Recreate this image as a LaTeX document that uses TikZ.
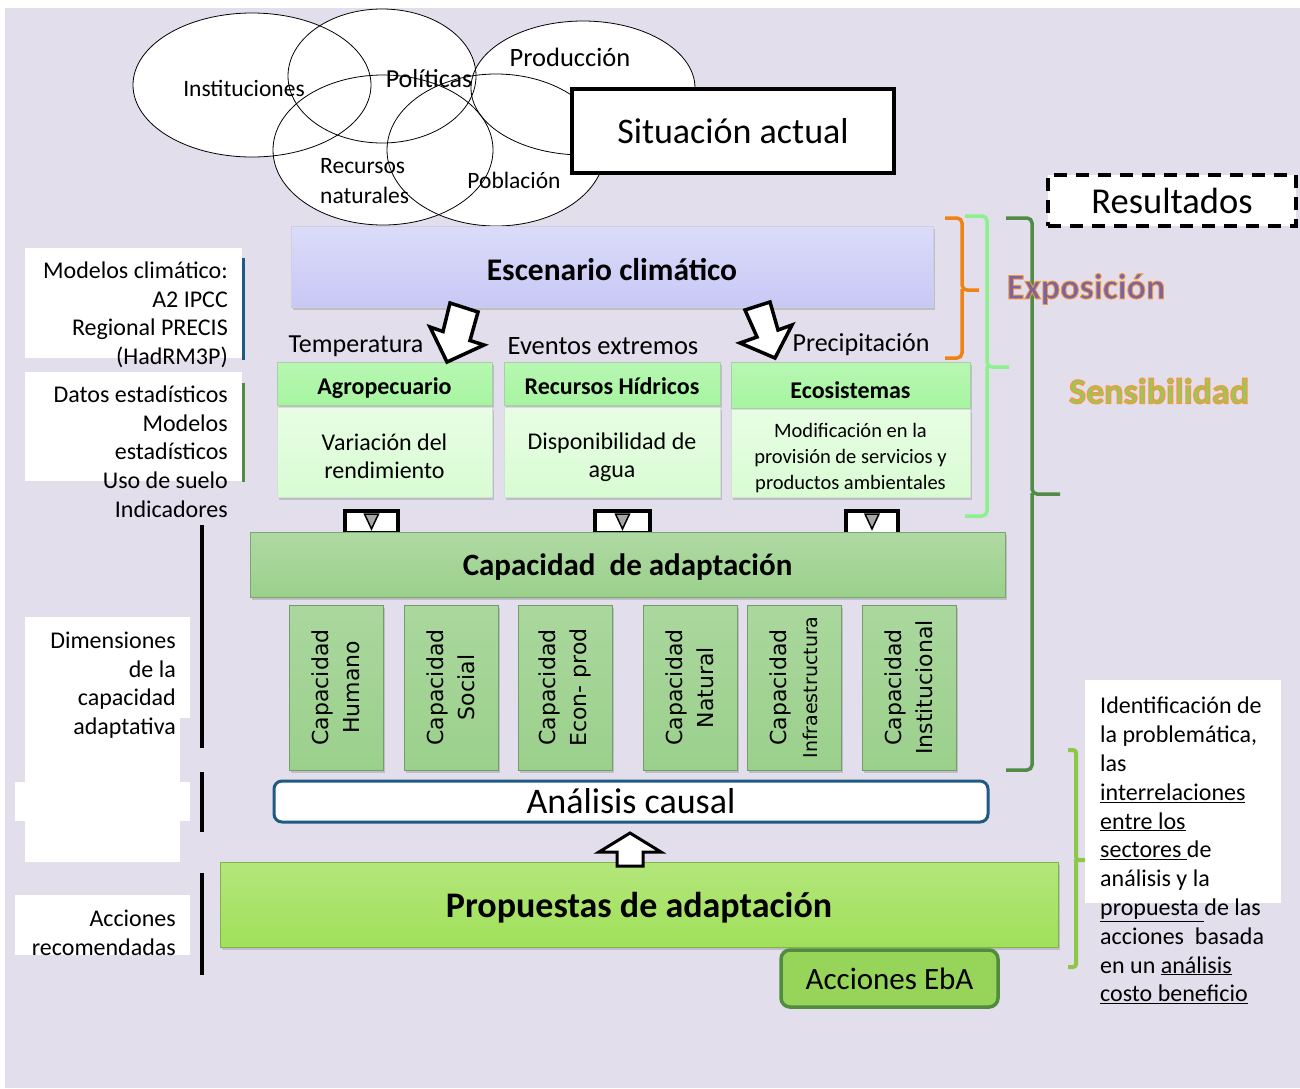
\documentclass[tikz,border=0pt]{standalone}
\usepackage{fontspec}
\setmainfont{Carlito}
\newfontfamily\dejavu{DejaVu Sans}
\usetikzlibrary{shapes.geometric,shadows}
\definecolor{bgc}{RGB}{226,222,236}
\definecolor{escfill}{RGB}{200,200,246}
\definecolor{hdrfill}{RGB}{166,245,160}
\definecolor{bodyfill}{RGB}{216,252,210}
\definecolor{capfill}{RGB}{155,208,140}
\definecolor{propfill}{RGB}{160,224,90}
\definecolor{ebafill}{RGB}{150,212,90}
\definecolor{ebaline}{RGB}{80,140,60}
\definecolor{darkblue}{RGB}{31,90,130}
\definecolor{brorange}{RGB}{240,130,20}
\definecolor{brlight}{RGB}{140,240,140}
\definecolor{brdark}{RGB}{80,140,70}
\definecolor{brlow}{RGB}{140,200,70}
\definecolor{expcol}{RGB}{125,100,160}
\definecolor{sencol}{RGB}{150,200,90}
\newcommand{\myfs}[2]{\fontsize{#1}{#2}\selectfont}
% text with a thin orange outline (single text, stroke+fill rendering mode)
\newcommand{\outlinedtext}[2]{\special{pdf:literal direct 0.95 0.6 0.25 RG #1 w 2 Tr}#2\special{pdf:literal direct 0 Tr}}
\tikzset{
  shade3d/.style={drop shadow={opacity=0.35,shadow xshift=2pt,shadow yshift=-2.5pt}},
  basebox/.style={rectangle,inner sep=0pt,shade3d},
  hdr/.style={basebox,draw=hdrfill!70!black!60,line width=0.6pt,top color=hdrfill!80!white,bottom color=hdrfill,font=\myfs{24}{28}\bfseries,text depth=0pt},
  body/.style={basebox,draw=bodyfill!70!black!40,line width=0.6pt,top color=white!40!bodyfill,bottom color=bodyfill},
  bodytext/.style={align=center,inner sep=0pt},
  capbox/.style={basebox,draw=capfill!75!black,line width=0.8pt,top color=capfill!85!white,bottom color=capfill,minimum width=94pt,minimum height=165pt},
  captext/.style={rotate=90,align=center,font=\dejavu\myfs{22}{31}},
  ell/.style={line width=0.8pt},
  blockarrow/.style={fill=white,draw=black,line width=3.5pt,line join=miter},
  labelbox/.style={fill=white},
  sidetext/.style={inner sep=0pt,font=\myfs{24}{28.8}},
  brace/.style={line width=3.5pt,rounded corners=5pt},
  tribox/.style={fill=white,draw=black,line width=3.5pt}
}
\begin{document}
\begin{tikzpicture}[x=1pt,y=-1pt]
\useasboundingbox (0,0) rectangle (1300,1088);
\fill[white] (0,0) rectangle (1300,1088);
\fill[bgc] (5,8) rectangle (1300,1088);

% ---- ellipses (fills, texts, outlines)
\fill[white] (252,85) ellipse [x radius=119,y radius=72];
\fill[white] (382,76) ellipse [x radius=94,y radius=67];
\fill[white] (583,88) ellipse [x radius=112,y radius=67];
\fill[white] (383,150) ellipse [x radius=110,y radius=75];
\fill[white] (496,150) ellipse [x radius=109,y radius=76];
\node[font=\myfs{23.5}{28}] (tinst) at (244,88) {Instituciones};
\node[font=\myfs{26}{28}] (tpol) at (429,79) {Políticas};
\node[font=\myfs{26.5}{28}] (tprod) at (570,57) {Producción};
\node[font=\myfs{23.5}{30},align=left,anchor=north west,inner sep=0pt] (trec) at (320,158) {Recursos\\naturales};
\node[font=\myfs{23.5}{28}] (tpob) at (514,180) {Población};
\draw[ell] (252,85) ellipse [x radius=119,y radius=72];
\draw[ell] (382,76) ellipse [x radius=94,y radius=67];
\draw[ell] (583,88) ellipse [x radius=112,y radius=67];
\draw[ell] (383,150) ellipse [x radius=110,y radius=75];
\draw[ell] (496,150) ellipse [x radius=109,y radius=76];

% ---- Situación actual / Resultados
\node[rectangle,fill=white,draw=black,line width=4pt,minimum width=322pt,minimum height=84pt,font=\myfs{36}{40}] (sit) at (733,131) {Situación actual};
\node[rectangle,fill=white,draw=black,line width=4pt,dash pattern=on 13pt off 9pt,minimum width=248pt,minimum height=51pt,font=\myfs{36.5}{40}] (res) at (1172,200.5) {Resultados};

% ---- left label boxes
\fill[labelbox] (25,248) rectangle (242,358);
\fill[labelbox] (25,372) rectangle (242,481);
\fill[labelbox] (25,617) rectangle (190,718);
\fill[labelbox] (25,718) rectangle (180,862);
\fill[labelbox] (15,782) rectangle (190,821);
\fill[labelbox] (15,895) rectangle (190,955);
\node[sidetext,align=right,anchor=north east] (lab1) at (228,261.5) {Modelos climático:\\A2 IPCC\\Regional PRECIS\\(HadRM3P)};
\node[sidetext,align=right,anchor=north east] (lab2) at (228,385.5) {Datos estadísticos\\Modelos\\estadísticos\\Uso de suelo\\Indicadores};
\node[sidetext,align=right,anchor=north east] (lab3) at (176,631.5) {Dimensiones\\de la\\capacidad\\adaptativa};
\node[sidetext,align=right,anchor=north east] (lab4) at (176,909.5) {Acciones\\recomendadas};
\draw[darkblue,line width=3pt] (243,258) -- (243,360);
\draw[brdark,line width=3pt] (243,383) -- (243,482);
\draw[black,line width=4pt] (202,525) -- (202,748);
\draw[black,line width=4pt] (202,772) -- (202,832);
\draw[black,line width=4pt] (202,873) -- (202,975);

% ---- Escenario climático
\node[basebox,draw=escfill!80!black!50,line width=0.6pt,top color=escfill!65!white,bottom color=escfill,minimum width=642pt,minimum height=81pt,font=\myfs{31.5}{34}\bfseries,text height=27pt,text depth=0pt] (esc) at (612,266.5) {Escenario climático};

% ---- factors
\node[font=\myfs{26}{28}] (ftemp) at (356,346) {Temperatura};
\node[font=\myfs{26.5}{28}] (fev) at (603,346) {Eventos extremos};
\node[font=\myfs{26}{28}] (fprec) at (861,345) {Precipitación};

% ---- sectors
\node[hdr,minimum width=215pt,minimum height=43pt,text height=21pt] (agroh) at (384.5,383.5) {Agropecuario};
\node[body,minimum width=215pt,minimum height=90pt] (agrob) at (384.5,452) {};
\node[bodytext,font=\myfs{24}{28}] (agrot) at ([yshift=-4.5pt]agrob.center) {Variación del\\rendimiento};
\node[hdr,minimum width=216pt,minimum height=43pt,text height=21pt] (rech) at (612,383.5) {Recursos Hídricos};
\node[body,minimum width=216pt,minimum height=90pt] (recb) at (612,452) {};
\node[bodytext,font=\myfs{24}{28}] (rect) at ([yshift=-5pt]recb.center) {Disponibilidad de\\agua};
\node[hdr,minimum width=239pt,minimum height=46pt,text height=27pt] (ecoh) at (850.5,385) {Ecosistemas};
\node[body,minimum width=239pt,minimum height=88pt] (ecob) at (850.5,453) {};
\node[bodytext,font=\myfs{20.5}{26}] (ecot) at ([yshift=-5pt]ecob.center) {Modificación en la\\provisión de servicios y\\productos ambientales};

% ---- block arrows
\draw[blockarrow] (450,303) -- (478,312) -- (470,340.5) -- (484,345) -- (447,362) -- (430,327) -- (443,331.5) -- cycle;
\draw[blockarrow] (745,310) -- (770,302) -- (778,330) -- (792,325) -- (775,358) -- (740,343) -- (757,337) -- cycle;

% ---- small boxes with triangles
\node[tribox,minimum width=53pt,minimum height=22pt,inner sep=0pt] (tb1) at (371.5,522) {};
\node[tribox,minimum width=55pt,minimum height=22pt,inner sep=0pt] (tb2) at (622.5,522) {};
\node[tribox,minimum width=52pt,minimum height=23pt,inner sep=0pt] (tb3) at (872,522.5) {};
\foreach \xx in {371.5,622.5,872}{
  \draw[fill=gray!70,draw=black,line width=1.5pt] (\xx-7,514) -- (\xx+7,514) -- (\xx,529) -- cycle;
}

% ---- Capacidad de adaptación
\node[basebox,draw=capfill!80!black,line width=0.6pt,top color=capfill!80!white,bottom color=capfill,minimum width=755pt,minimum height=65pt,font=\myfs{31}{34}\bfseries,text depth=0pt] (cap) at (627.5,564.5) {Capacidad\ \ de adaptación};

\node[capbox] (c1) at (336,687.5) {};
\node[capbox] (c2) at (451,687.5) {};
\node[capbox] (c3) at (565,687.5) {};
\node[capbox] (c4) at (690,687.5) {};
\node[capbox] (c5) at (794,687.5) {};
\node[capbox] (c6) at (909,687.5) {};
\node[captext] (t1) at (c1) {Capacidad\\Humano};
\node[captext] (t2) at (c2) {Capacidad\\Social};
\node[captext] (t3) at (c3) {Capacidad\\Econ- prod};
\node[captext] (t4) at (c4) {Capacidad\\Natural};
\node[captext] (t5) at (c5) {Capacidad\\{\myfs{19}{27}Infraestructura}};
\node[captext] (t6) at (c6) {Capacidad\\Institucional};

% ---- Análisis causal
\node[rectangle,rounded corners=8pt,fill=white,draw=darkblue,line width=3pt,minimum width=714pt,minimum height=41pt,inner sep=0pt,font=\myfs{36}{38},text depth=1pt] (ana) at (631,801.5) {Análisis causal};

% ---- Propuestas
\node[basebox,draw=propfill!80!black,line width=0.6pt,top color=propfill!80!white,bottom color=propfill,minimum width=838pt,minimum height=85pt,font=\myfs{36}{38}\bfseries,text depth=0pt] (prop) at (639,904.5) {Propuestas de adaptación};
\node[rectangle,rounded corners=9pt,fill=ebafill,draw=ebaline,line width=3.5pt,minimum width=217pt,minimum height=57pt,font=\myfs{31}{34}] (eba) at (889.5,978.5) {Acciones EbA};

% up arrow (on top of Propuestas)
\draw[blockarrow,line width=3pt] (630,833) -- (661,852) -- (643,852) -- (643,866) -- (617,866) -- (617,852) -- (599,852) -- cycle;

% ---- braces on the right
\draw[brace,brorange] (945,218) -- (962,218) -- (962,290) -- (979,290);
\draw[brace,brorange] (962,289) -- (962,358) -- (945,358);
\draw[brace,brlight] (965,216) -- (987,216) -- (987,367) -- (1009,367);
\draw[brace,brlight] (987,366) -- (987,516) -- (965,516);
\draw[brace,brdark] (1006,218) -- (1032,218) -- (1032,494) -- (1060,494);
\draw[brace,brdark] (1032,493) -- (1032,770) -- (1006,770);
\draw[brace,brlow,line width=4pt,rounded corners=3pt] (1068,750) -- (1076,750) -- (1076,860) -- (1088,860);
\draw[brace,brlow,line width=4pt,rounded corners=3pt] (1076,859) -- (1076,967) -- (1068,967);

% ---- Exposición / Sensibilidad
\node[text=expcol,font=\myfs{36}{38}\bfseries] (expo) at (1086,289) {\outlinedtext{0.9}{Exposición}};
\node[text=sencol,font=\myfs{36}{38}\bfseries] (sens) at (1159,391) {\outlinedtext{1.3}{Sensibilidad}};

% ---- right text
\fill[white] (1085,680) rectangle (1281,903);
\node[sidetext,align=left,anchor=north west] (rtext) at (1100,697) {Identificación de\\la problemática,\\las\\\underline{interrelaciones}\\\underline{entre los}\\\underline{sectores\ }de\\análisis y la\\\underline{propuesta\ }de las\\acciones\ \ basada\\en un \underline{análisis}\\\underline{costo beneficio}};
\end{tikzpicture}
\end{document}
